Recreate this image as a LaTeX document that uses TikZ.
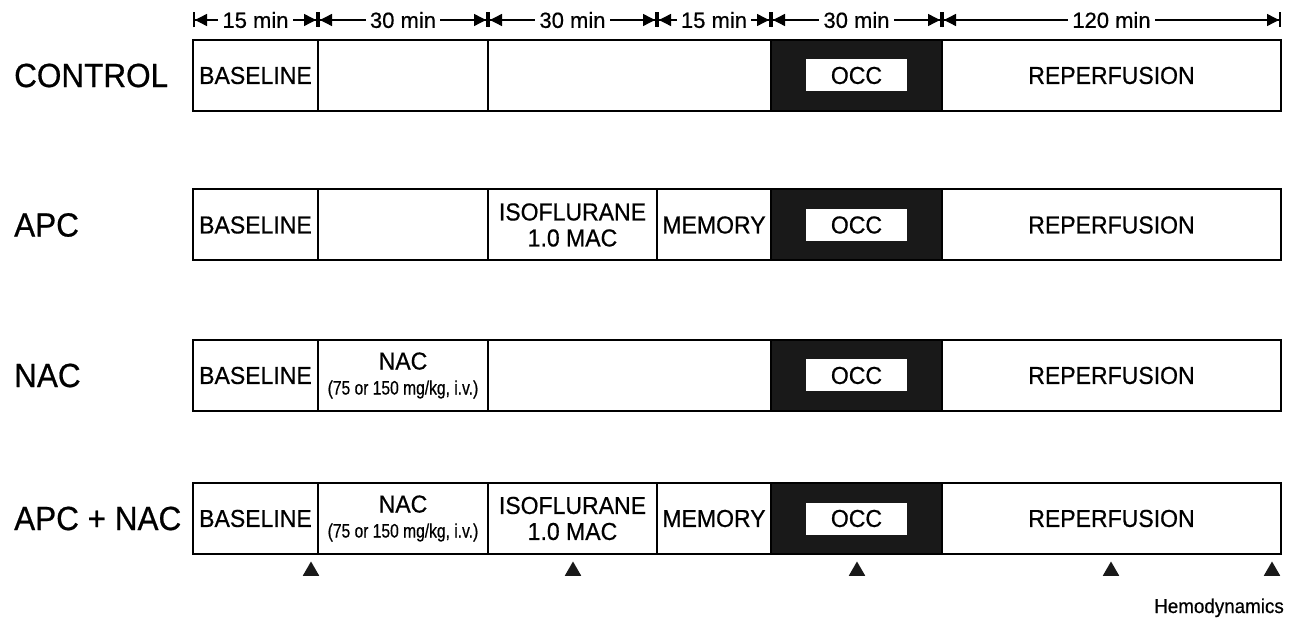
\documentclass[tikz,border=0pt]{standalone}
\usepackage{fontspec}
\setmainfont{Liberation Sans}[FakeBold=0.6]
\newfontfamily\condfont{Liberation Sans}[FakeStretch=0.94,FakeBold=0.6]
\newfontfamily\narrowfont{Liberation Sans}[FakeStretch=0.8,FakeBold=0.5]
\usetikzlibrary{arrows.meta,shapes.geometric}
\begin{document}
\begin{tikzpicture}[x=1pt,y=-1pt,
  cell/.style={draw,line width=2pt,minimum height=71pt,inner sep=0pt,align=center,font=\condfont\fontsize{24.5}{29}\selectfont},
  occ/.style={cell,fill=black!90},
  occlabel/.style={fill=white,minimum width=101pt,minimum height=32pt,inner sep=0pt,font=\condfont\fontsize{24.5}{29}\selectfont},
  rowlabel/.style={anchor=west,inner sep=0pt,font=\condfont\fontsize{33.5}{38}\selectfont},
  dim/.style={line width=1.4pt,{Bar[width=15pt,line width=2pt]Triangle[length=12pt,width=12pt]}-{Triangle[length=12pt,width=12pt]Bar[width=15pt,line width=2pt]}},
  dimlabel/.style={fill=white,inner sep=4pt,font=\fontsize{22}{24}\selectfont},
  marker/.style={regular polygon,regular polygon sides=3,fill=black!90,minimum size=19pt,inner sep=0pt}
]
\useasboundingbox (0,0) rectangle (1302,620);

% timeline
\coordinate (t0) at (193,20);
\coordinate (t1) at (318,20);
\coordinate (t2) at (488,20);
\coordinate (t3) at (657,20);
\coordinate (t4) at (771,20);
\coordinate (t5) at (942,20);
\coordinate (t6) at (1281,20);
\draw[dim] (t0) -- (t1) node[midway,dimlabel] (d1) {15 min};
\draw[dim] (t1) -- (t2) node[midway,dimlabel] (d2) {30 min};
\draw[dim] (t2) -- (t3) node[midway,dimlabel] (d3) {30 min};
\draw[dim] (t3) -- (t4) node[midway,dimlabel] (d4) {15 min};
\draw[dim] (t4) -- (t5) node[midway,dimlabel] (d5) {30 min};
\draw[dim] (t5) -- (t6) node[midway,dimlabel] (d6) {120 min};

% row labels
\node[rowlabel] (l1) at (14,75.5) {CONTROL};
\node[rowlabel] (l2) at (14,225) {APC};
\node[rowlabel] (l3) at (14,375.5) {NAC};
\node[rowlabel] (l4) at (14,518.5) {APC + NAC};

% row 1
\node[cell,minimum width=125pt] (a1) at (255.5,75.5) {BASELINE};
\node[cell,minimum width=170pt] (a2) at (403,75.5) {};
\node[cell,minimum width=283pt] (a3) at (629.5,75.5) {};
\node[occ,minimum width=171pt] (a4) at (856.5,75.5) {};
\node[occlabel] (a4t) at (a4) {OCC};
\node[cell,minimum width=339pt] (a5) at (1111.5,75.5) {REPERFUSION};

% row 2
\node[cell,minimum width=125pt] (b1) at (255.5,225) {BASELINE};
\node[cell,minimum width=170pt] (b2) at (403,225) {};
\node[cell,minimum width=169pt] (b3) at (572.5,225) {ISOFLURANE\\[-3pt]1.0 MAC};
\node[cell,minimum width=114pt] (b4) at (714,225) {MEMORY};
\node[occ,minimum width=171pt] (b5) at (856.5,225) {};
\node[occlabel] (b5t) at (b5) {OCC};
\node[cell,minimum width=339pt] (b6) at (1111.5,225) {REPERFUSION};

% row 3
\node[cell,minimum width=125pt] (c1) at (255.5,375.5) {BASELINE};
\node[cell,minimum width=170pt] (c2) at (403,375.5) {NAC\\[-4pt]{\narrowfont\fontsize{19.5}{22}\selectfont (75 or 150 mg/kg, i.v.)}};
\node[cell,minimum width=283pt] (c3) at (629.5,375.5) {};
\node[occ,minimum width=171pt] (c4) at (856.5,375.5) {};
\node[occlabel] (c4t) at (c4) {OCC};
\node[cell,minimum width=339pt] (c5) at (1111.5,375.5) {REPERFUSION};

% row 4
\node[cell,minimum width=125pt] (e1) at (255.5,518.5) {BASELINE};
\node[cell,minimum width=170pt] (e2) at (403,518.5) {NAC\\[-4pt]{\narrowfont\fontsize{19.5}{22}\selectfont (75 or 150 mg/kg, i.v.)}};
\node[cell,minimum width=169pt] (e3) at (572.5,518.5) {ISOFLURANE\\[-3pt]1.0 MAC};
\node[cell,minimum width=114pt] (e4) at (714,518.5) {MEMORY};
\node[occ,minimum width=171pt] (e5) at (856.5,518.5) {};
\node[occlabel] (e5t) at (e5) {OCC};
\node[cell,minimum width=339pt] (e6) at (1111.5,518.5) {REPERFUSION};

% markers
\node[marker] (m1) at (311,571) {};
\node[marker] (m2) at (573,571) {};
\node[marker] (m3) at (857,571) {};
\node[marker] (m4) at (1111,571) {};
\node[marker] (m5) at (1272,571) {};
\node[anchor=base east,inner sep=0pt,font=\condfont\fontsize{20}{23}\selectfont] (hemo) at (1284,613) {Hemodynamics};
\end{tikzpicture}
\end{document}
